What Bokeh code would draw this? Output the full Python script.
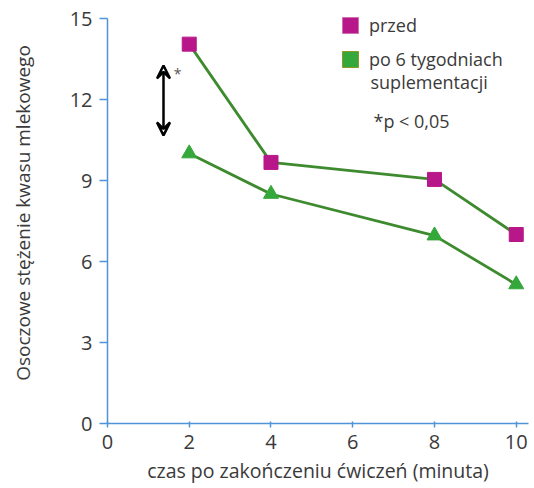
from bokeh.plotting import figure
from bokeh.models import Range1d, Legend, LegendItem, Label, Arrow, VeeHead, FixedTicker
from bokeh.embed import file_html
from bokeh.resources import INLINE

minutes = [2, 4, 8, 10]
przed = [14.05, 9.67, 9.04, 7.0]
po_6_tygodniach = [10.0, 8.5, 6.96, 5.15]
x_ticks = [0, 2, 4, 6, 8, 10]
y_ticks = [0, 3, 6, 9, 12, 15]

FONT = "Open Sans"
TXT = "#3a3a3a"
AXIS = "#4f94d8"
MAGENTA = "#b8178a"
GREEN_LINE = "#3d8b2e"
GREEN = "#35a83c"

# frame top at canvas y=2; value 15 sits at y=18 (27 px per unit)
p = figure(width=534, height=488, output_backend="svg", toolbar_location=None,
           x_range=Range1d(0, 10.3), y_range=Range1d(0, 15 + 16 / 27),
           min_border_left=107, min_border_right=6, min_border_top=2, min_border_bottom=65)
p.outline_line_color = None
p.grid.grid_line_color = None

for ax in (p.xaxis[0], p.yaxis[0]):
    ax.axis_line_color = AXIS
    ax.axis_line_width = 1.5
    ax.major_tick_line_color = AXIS
    ax.major_tick_line_width = 1.5
    ax.minor_tick_line_color = None
    ax.major_label_text_font = FONT
    ax.major_label_text_font_size = "20px"
    ax.major_label_text_color = TXT
    ax.axis_label_text_font = FONT
    ax.axis_label_text_font_style = "normal"
    ax.axis_label_text_color = TXT

p.yaxis.bounds = (0, 15)
p.xaxis.major_tick_out = 4
p.xaxis.major_tick_in = 2
p.yaxis.major_tick_out = 8
p.yaxis.major_tick_in = 0
p.xaxis.ticker = FixedTicker(ticks=x_ticks)
p.yaxis.ticker = FixedTicker(ticks=y_ticks)
p.xaxis.major_label_standoff = 7
p.yaxis.major_label_standoff = 7
p.xaxis.axis_label = "czas po zakończeniu ćwiczeń (minuta)"
p.yaxis.axis_label = "Osoczowe stężenie kwasu mlekowego"
p.xaxis.axis_label_text_font_size = "19.5px"
p.yaxis.axis_label_text_font_size = "19px"
p.xaxis.axis_label_standoff = 5
p.yaxis.axis_label_standoff = 31

p.line(minutes, przed, line_color=GREEN_LINE, line_width=2.8)
p.line(minutes, po_6_tygodniach, line_color=GREEN_LINE, line_width=2.8)
p.scatter(minutes, przed, marker="square", size=14, fill_color=MAGENTA, line_color=MAGENTA)
p.scatter(minutes, po_6_tygodniach, marker="triangle", size=15, fill_color=GREEN, line_color=GREEN)

# legend-only swatches (no visible data)
nan = float("nan")
leg_a = p.quad(left=[nan], right=[nan], top=[nan], bottom=[nan], fill_color=MAGENTA, line_color="#d070b0")
leg_b = p.quad(left=[nan], right=[nan], top=[nan], bottom=[nan], fill_color=GREEN, line_color="#8a9a2a")

legend = Legend(items=[LegendItem(label="przed", renderers=[leg_a]),
                       LegendItem(label="po 6 tygodniach", renderers=[leg_b])],
                location=(233, 352), orientation="vertical",
                label_text_font=FONT, label_text_font_size="18px", label_text_color=TXT,
                glyph_width=20, glyph_height=20, label_height=20, spacing=10,
                padding=0, margin=0, border_line_color=None, background_fill_alpha=0,
                label_standoff=9)
p.add_layout(legend, "center")

p.add_layout(Label(x=263, y=342, x_units="screen", y_units="screen", text="suplementacji",
                   text_baseline="middle", text_font=FONT, text_font_size="18px", text_color=TXT))
p.add_layout(Label(x=266, y=303, x_units="screen", y_units="screen", text="*p < 0,05",
                   text_baseline="middle", text_font=FONT, text_font_size="18px", text_color=TXT))

p.add_layout(Arrow(x_start=1.37, y_start=10.67, x_end=1.37, y_end=13.26,
                   start=VeeHead(size=13, line_width=2.5, line_color="black", fill_alpha=0),
                   end=VeeHead(size=13, line_width=2.5, line_color="black", fill_alpha=0),
                   line_width=2.5, line_color="black"))
p.add_layout(Label(x=1.62, y=12.95, text="*", text_baseline="middle", text_font=FONT,
                   text_font_size="14px", text_color="#555555"))

open("out.html", "w").write(file_html(p, INLINE))
